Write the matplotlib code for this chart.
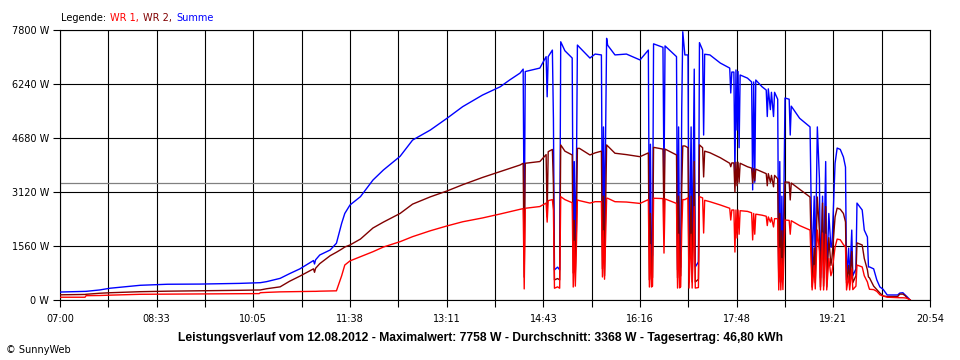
import numpy as np
import matplotlib
matplotlib.use("Agg")
import matplotlib.pyplot as plt

# Leistungsverlauf 12.08.2012, values
times = [
    "07:00", "07:24", "07:25", "07:38", "07:48", "08:17", "08:43", "09:14", "09:52", "10:11",
    "10:12", "10:18", "10:31", "10:40", "10:50", "11:03", "11:04", "11:05", "11:09", "11:19",
    "11:25", "11:30", "11:33", "11:38", "11:48", "12:00", "12:10", "12:26", "12:38", "12:55",
    "13:11", "13:26", "13:45", "14:02", "14:11", "14:21", "14:24", "14:25", "14:26", "14:40",
    "14:46", "14:47", "14:48", "14:52", "14:53", "14:54", "14:57", "14:59", "15:00", "15:04",
    "15:11", "15:12", "15:13", "15:14", "15:15", "15:16", "15:18", "15:28", "15:33", "15:39",
    "15:40", "15:41", "15:42", "15:44", "15:45", "15:52", "16:03", "16:16", "16:24", "16:25",
    "16:26", "16:27", "16:28", "16:29", "16:38", "16:39", "16:40", "16:51", "16:52", "16:53",
    "16:54", "16:55", "16:56", "16:57", "16:59", "17:02", "17:03", "17:05", "17:06", "17:08",
    "17:09", "17:12", "17:13", "17:16", "17:17", "17:18", "17:23", "17:33", "17:42", "17:43",
    "17:44", "17:46", "17:47", "17:48", "17:49", "17:50", "17:51", "17:52", "17:59", "18:03",
    "18:04", "18:05", "18:06", "18:07", "18:13", "18:17", "18:18", "18:19", "18:21", "18:22",
    "18:24", "18:25", "18:28", "18:29", "18:30", "18:31", "18:32", "18:33", "18:35", "18:39",
    "18:40", "18:41", "18:49", "18:59", "19:01", "19:03", "19:04", "19:06", "19:08", "19:09",
    "19:11", "19:12", "19:14", "19:15", "19:17", "19:19", "19:20", "19:23", "19:25", "19:28",
    "19:31", "19:33", "19:34", "19:36", "19:37", "19:39", "19:40", "19:43", "19:44", "19:49",
    "19:51", "19:54", "19:55", "19:56", "20:00", "20:03", "20:06", "20:09", "20:13", "20:23",
    "20:25", "20:28", "20:30", "20:32", "20:35",
]
summe = [
    230, 250, 250, 290, 340, 425, 455, 460, 480, 500,
    500, 530, 625, 760, 900, 1140, 1040, 1160, 1300, 1445,
    1640, 2215, 2500, 2745, 2985, 3465, 3755, 4150, 4620, 4910,
    5250, 5585, 5920, 6160, 6355, 6555, 6670, 1690, 6600, 6700,
    7030, 5870, 7030, 7220, 5250, 870, 950, 870, 7460, 7200,
    6990, 1445, 4000, 1500, 3500, 7365, 7300, 6990, 7105, 7080,
    1735, 5000, 1800, 7560, 7360, 7080, 7105, 6935, 7220, 1445,
    4500, 1070, 1300, 7400, 7300, 3400, 7340, 7030, 870, 5000,
    900, 950, 5500, 7750, 7080, 7080, 955, 5000, 955, 6670,
    955, 1100, 7435, 7220, 4765, 7100, 7080, 6845, 6700, 5980,
    6585, 6585, 3610, 6645, 4910, 6600, 4400, 6500, 6410, 6300,
    3180, 6300, 3400, 6355, 6160, 6065, 5300, 6100, 5500, 6000,
    5300, 6000, 5800, 520, 4000, 520, 3000, 600, 5835, 5800,
    4765, 5600, 5250, 5000, 925, 3000, 925, 5000, 3500, 635,
    3000, 635, 4000, 635, 2500, 1530, 1530, 3950, 4390, 4350,
    4130, 3840, 580, 1500, 580, 2020, 700, 900, 2800, 2600,
    2020, 1820, 955, 955, 900, 580, 375, 310, 145, 145,
    200, 210, 150, 95, 0,
]
wr2 = [
    150, 160, 165, 195, 210, 240, 255, 265, 280, 290,
    290, 325, 380, 540, 690, 900, 800, 915, 1050, 1280,
    1380, 1470, 1530, 1590, 1760, 2080, 2250, 2500, 2770, 2980,
    3150, 3330, 3540, 3710, 3800, 3900, 3950, 660, 3950, 4000,
    4200, 2400, 4285, 4350, 3320, 580, 620, 580, 4480, 4300,
    4190, 780, 2300, 800, 2000, 4380, 4380, 4190, 4250, 4300,
    900, 3000, 700, 4480, 4450, 4240, 4200, 4140, 4250, 580,
    2500, 600, 650, 4410, 4360, 2255, 4360, 4190, 640, 3000,
    650, 700, 3200, 4450, 4450, 4400, 520, 3000, 520, 4000,
    520, 600, 4480, 4400, 3555, 4300, 4255, 4110, 3950, 3850,
    3960, 3960, 3120, 3980, 3300, 3980, 3400, 3950, 3850, 3810,
    3380, 3800, 3450, 3780, 3700, 3650, 3300, 3650, 3400, 3600,
    3270, 3600, 3500, 665, 2500, 665, 2000, 700, 3410, 3400,
    2890, 3380, 3200, 2975, 375, 1500, 500, 2975, 2000, 375,
    2800, 400, 2700, 375, 1800, 1000, 1200, 2400, 2655, 2620,
    2500, 2255, 490, 1000, 490, 1400, 500, 700, 1650, 1590,
    1200, 870, 665, 640, 400, 300, 200, 115, 100, 100,
    170, 170, 130, 60, 0,
]
wr1 = [
    80, 80, 125, 130, 140, 165, 170, 175, 180, 185,
    210, 220, 235, 240, 245, 250, 250, 250, 255, 260,
    265, 700, 1010, 1130, 1250, 1395, 1530, 1685, 1830, 2000,
    2140, 2260, 2370, 2485, 2550, 2620, 2640, 320, 2650, 2700,
    2800, 2250, 2870, 2900, 2600, 340, 380, 340, 2985, 2900,
    2810, 375, 1700, 400, 1500, 2890, 2870, 2800, 2840, 2840,
    665, 2000, 600, 2940, 2940, 2840, 2830, 2790, 2900, 375,
    1600, 375, 400, 2940, 2930, 1355, 2920, 2790, 345, 1900,
    350, 380, 2000, 2900, 2900, 2950, 345, 1900, 345, 2700,
    345, 360, 2985, 2950, 1935, 2880, 2840, 2745, 2650, 2310,
    2600, 2600, 1385, 2600, 1790, 2600, 1900, 2580, 2560, 2520,
    1735, 2500, 1900, 2480, 2450, 2420, 2150, 2400, 2250, 2380,
    2110, 2350, 2350, 290, 1500, 290, 1200, 300, 2310, 2300,
    1900, 2290, 2150, 2020, 290, 1000, 320, 2020, 1400, 290,
    1935, 290, 1900, 290, 1200, 700, 800, 1530, 1760, 1740,
    1600, 1530, 290, 700, 290, 900, 300, 400, 1010, 955,
    700, 520, 400, 310, 300, 250, 150, 115, 80, 65,
    65, 65, 60, 50, 0,
]

y_ticks = [0, 1560, 3120, 4680, 6240, 7800]
x_labels = ["07:00", "08:33", "10:05", "11:38", "13:11", "14:43", "16:16", "17:48", "19:21", "20:54"]
durchschnitt = 3368
avg_end = "20:09"
title = ("Leistungsverlauf vom 12.08.2012 - Maximalwert: 7758 W - "
         "Durchschnitt: 3368 W - Tagesertrag: 46,80 kWh")


def to_min(s):
    h, m = s.split(":")
    return int(h) * 60 + int(m)


t = np.array([to_min(s) for s in times])
x0, x1 = to_min(x_labels[0]), to_min(x_labels[-1])

plt.rcParams['font.family'] = ['DejaVu Sans']
fs = 7

fig = plt.figure(figsize=(9.6, 3.6), dpi=100)
ax = fig.add_axes([60 / 960, 60 / 360, 870 / 960, 270 / 360])

ax.plot(t, summe, color='#0000ff', lw=1.0, zorder=3)
ax.plot(t, wr2, color='#800000', lw=1.0, zorder=4)
ax.plot(t, wr1, color='#ff0000', lw=1.0, zorder=5)
ax.hlines(durchschnitt, x0, to_min(avg_end), color='#808080', lw=0.9, zorder=1.5)

ax.set_xlim(x0, x1)
ax.set_ylim(0, 7800)
ax.set_xticks(np.linspace(x0, x1, len(x_labels)))
ax.set_xticklabels(x_labels)
ax.set_xticks(np.linspace(x0, x1, 2 * len(x_labels) - 1), minor=True)
ax.set_yticks(y_ticks)
ax.set_yticklabels([f"{v} W" for v in y_ticks])
ax.tick_params(axis='both', which='both', length=5, width=0.8, color='black',
               labelsize=fs, direction='out')
ax.tick_params(axis='x', pad=5)
ax.tick_params(axis='y', pad=3)
ax.grid(True, which='both', axis='x', color='black', lw=0.8)
ax.grid(True, which='major', axis='y', color='black', lw=0.8)
ax.set_axisbelow(True)
for sp in ax.spines.values():
    sp.set_color('black')
    sp.set_linewidth(0.8)

# Legende oben links, farbige Teile nebeneinander
fig.canvas.draw()
r = fig.canvas.get_renderer()
xpos = 61
for txt, col in [("Legende:", 'black'), ("WR 1,", '#ff0000'), ("WR 2,", '#800000'), ("Summe", '#0000ff')]:
    tt = fig.text(xpos / 960, 1 - 21 / 360, txt, color=col, fontsize=fs, ha='left', va='baseline')
    bb = tt.get_window_extent(renderer=r)
    xpos = bb.x1 + 4

# Titelzeile unten, Breite an Vorlage angepasst
tl = fig.text(480 / 960, 1 - 341 / 360, title, fontsize=8, fontweight='bold',
              family='Liberation Sans', ha='center', va='baseline')
w = tl.get_window_extent(renderer=r).width
tl.set_fontsize(8 * 607 / w)

fig.text(6 / 960, 1 - 353 / 360, "\u00a9 SunnyWeb", fontsize=fs, ha='left', va='baseline')

fig.savefig("out.png", dpi=100)
